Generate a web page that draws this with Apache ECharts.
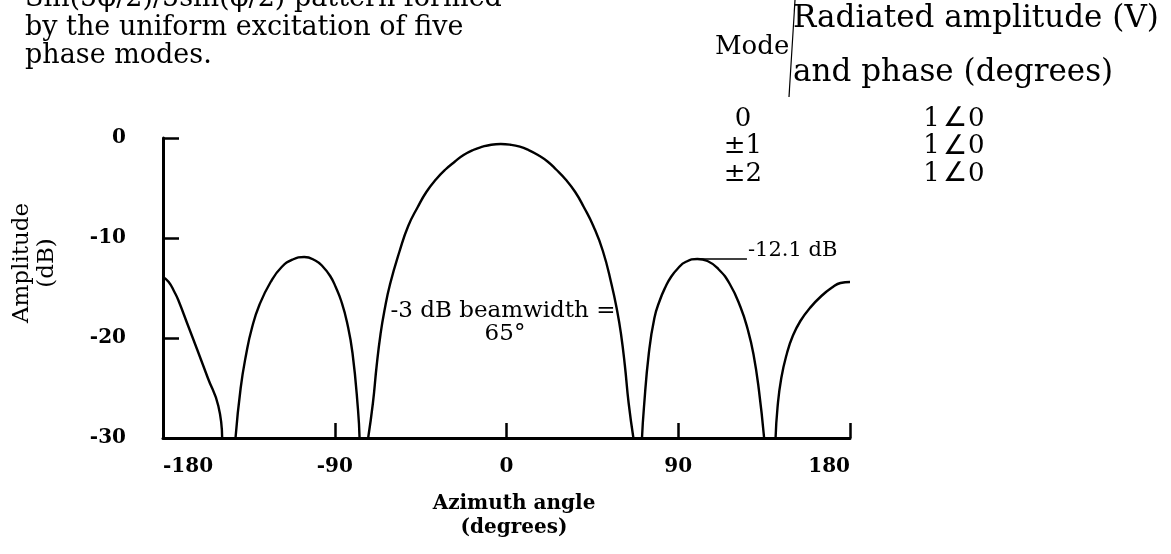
<!DOCTYPE html>
<html>
<head>
<meta charset="utf-8">
<script src="https://cdn.jsdelivr.net/npm/echarts@6/dist/echarts.min.js"></script>
<style>
  html, body { margin: 0; padding: 0; background: #fff; }
  #chart { width: 1171px; height: 554px; }
</style>
</head>
<body>
<div id="chart"></div>
<script>
// Azimuth pattern of five uniformly excited phase modes, in dB.
// The plot floor is -30 dB; a null entry marks a null that drops below it,
// so each lobe is drawn as its own segment.
const azimuthDeg = [
  -180, -177, -174, -172, -167, -162, -156.5, -151, -149,
  -145.5,
  -142, -139.3, -136.3, -133.4, -129.5, -123.6, -117.8, -112, -106, -100.2, -96.3, -92.4, -89.5, -86.6, -83.6, -80.7, -77.8, -77,
  -75,
  -72.5, -70, -68, -66, -64, -61, -56, -51.5, -46.5, -42, -37, -32, -27, -22.5, -17.5, -12.5, -8, -3,
  2, 7, 11.5, 16.5, 21.5, 26, 31, 36, 40.5, 45.5, 50.5, 55, 58, 60, 62, 64, 66.5,
  68.75,
  71, 72, 74.6, 77.5, 80.4, 83.3, 86.2, 90, 93.8, 100, 105.3, 111, 117, 122.6, 126.5, 129.4, 132.2, 135,
  138,
  141, 142, 144, 147, 150, 154, 159, 165, 171, 175, 180
];
const amplitudeDb = [
  -13.9, -14.4, -15.4, -16.2, -18.7, -21.2, -24.0, -26.8, -30,
  null,
  -30, -25.0, -21.5, -19.0, -16.7, -14.4, -12.9, -12.15, -11.9, -12.25, -12.85, -13.8, -14.9, -16.3, -18.4, -21.5, -27.2, -30,
  null,
  -30, -26.5, -22.7, -19.6, -17.3, -14.6, -11.3, -8.8, -6.9, -5.4, -4.15, -3.15, -2.35, -1.7, -1.2, -0.87, -0.67, -0.6,
  -0.67, -0.87, -1.2, -1.7, -2.35, -3.15, -4.15, -5.4, -6.9, -8.8, -11.3, -14.6, -17.3, -19.6, -22.7, -26.5, -30,
  null,
  -30, -27.0, -21.5, -18.0, -16.2, -14.9, -13.9, -13.0, -12.4, -12.1, -12.3, -13.1, -14.6, -16.9, -19.2, -21.6, -25.1, -30,
  null,
  -30, -27.0, -24.0, -21.5, -19.8, -18.3, -17.0, -15.8, -14.9, -14.5, -14.4
];
const xTickLabels = ['-180', '-90', '0', '90', '180'];
const yTickLabels = ['-30', '-20', '-10', '0'];

// first sidelobe annotation
const sidelobePeak = { angle: 100, db: -12.1, text: '-12.1 dB', leader: 26 };

// mode excitation table: amplitude and phase per mode
const modeRows = ['0', '\u00b11', '\u00b12'];
const excitationAmp = ['1', '1', '1'];
const excitationPhase = ['0', '0', '0'];

const titleLines = [
  'Sin(5\u03c6/2)/5sin(\u03c6/2) pattern formed',
  'by the uniform excitation of five',
  'phase modes.'
];

const SERIF = "'DejaVu Serif', 'Liberation Serif', serif";

function txt(str, x, y, size, extra) {
  const o = Object.assign({ align: 'left', weight: 'normal', rotation: 0 }, extra || {});
  const el = {
    type: 'text', x: x, y: y, rotation: o.rotation, silent: true,
    style: {
      text: str, fill: '#000', fontFamily: SERIF, fontSize: size, fontWeight: o.weight,
      align: o.align, verticalAlign: 'middle',
      textAlign: o.align, textVerticalAlign: 'middle'
    }
  };
  if (o.rich) el.style.rich = o.rich;
  return el;
}

const chart = echarts.init(document.getElementById('chart'), null, { renderer: 'canvas' });

const angleRich = {
  ang: { fontFamily: "'DejaVu Sans', sans-serif", fontSize: 27, fill: '#000', padding: [0, 1, 0, 3] }
};

const graphics = [];
titleLines.forEach((t, i) => graphics.push(txt(t, 25, -1 + i * 28.5, 27)));
graphics.push(txt('Radiated amplitude (V)', 793, 19, 31));
graphics.push(txt('and phase (degrees)', 793, 73, 31));
graphics.push(txt('Mode', 715, 47, 26));
modeRows.forEach((t, i) => graphics.push(txt(t, 743, 119 + i * 27.5, 26, { align: 'center' })));
excitationAmp.forEach((a, i) => graphics.push(
  txt(a + '{ang|\u2220}' + excitationPhase[i], 954, 119 + i * 27.5, 26, { align: 'center', rich: angleRich })
));
graphics.push({
  type: 'line', silent: true,
  shape: { x1: 795, y1: 0, x2: 789, y2: 97 },
  style: { stroke: '#000', lineWidth: 1.2 }
});
graphics.push(txt('Amplitude', 22, 263, 23, { align: 'center', rotation: Math.PI / 2 }));
graphics.push(txt('(dB)', 47, 263, 23, { align: 'center', rotation: Math.PI / 2 }));
graphics.push(txt('Azimuth angle', 514, 504, 20, { align: 'center', weight: 'bold' }));
graphics.push(txt('(degrees)', 514, 528, 20, { align: 'center', weight: 'bold' }));
graphics.push(txt('-3 dB beamwidth =', 503, 311, 23, { align: 'center' }));
graphics.push(txt('65\u00b0', 505, 334, 23, { align: 'center' }));

const option = {
  animation: false,
  backgroundColor: '#fff',
  grid: { left: 163, right: 321, top: 138, bottom: 116, containLabel: false },
  xAxis: {
    type: 'value', min: -180, max: 180, interval: 90,
    axisLine: { onZero: false, lineStyle: { color: '#000', width: 3 } },
    axisTick: { inside: true, length: 15, lineStyle: { color: '#000', width: 2.5 } },
    splitLine: { show: false },
    axisLabel: {
      margin: 19, color: '#000', fontFamily: SERIF, fontSize: 20, fontWeight: 'bold',
      alignMinLabel: 'left', alignMaxLabel: 'right',
      formatter: v => xTickLabels[Math.round((v + 180) / 90)]
    }
  },
  yAxis: {
    type: 'value', min: -30, max: 0, interval: 10,
    axisLine: { onZero: false, lineStyle: { color: '#000', width: 3 } },
    axisTick: { inside: true, length: 16, lineStyle: { color: '#000', width: 2.5 } },
    splitLine: { show: false },
    axisLabel: {
      margin: 37, color: '#000', fontFamily: SERIF, fontSize: 20, fontWeight: 'bold',
      formatter: v => yTickLabels[Math.round((v + 30) / 10)]
    }
  },
  series: [{
    type: 'line',
    data: azimuthDeg.map((a, i) => [a, amplitudeDb[i] === null ? '-' : amplitudeDb[i]]),
    connectNulls: false,
    smooth: 0.5,
    showSymbol: false,
    clip: true,
    lineStyle: { color: '#000', width: 2.4 },
    markLine: {
      silent: true, symbol: ['none', 'none'],
      lineStyle: { color: '#000', width: 1.5, type: 'solid' },
      label: { show: false },
      data: [[
        { coord: [sidelobePeak.angle, sidelobePeak.db] },
        { coord: [sidelobePeak.angle + sidelobePeak.leader, sidelobePeak.db] }
      ]]
    }
  }],
  graphic: graphics
};
chart.setOption(option);

// place the sidelobe level text at the end of its leader
const leaderEnd = chart.convertToPixel({ gridIndex: 0 }, [sidelobePeak.angle + sidelobePeak.leader, sidelobePeak.db]);
graphics.push(txt(sidelobePeak.text, leaderEnd[0] + 1, leaderEnd[1] - 8, 21));
chart.setOption({ graphic: graphics });
</script>
</body>
</html>
